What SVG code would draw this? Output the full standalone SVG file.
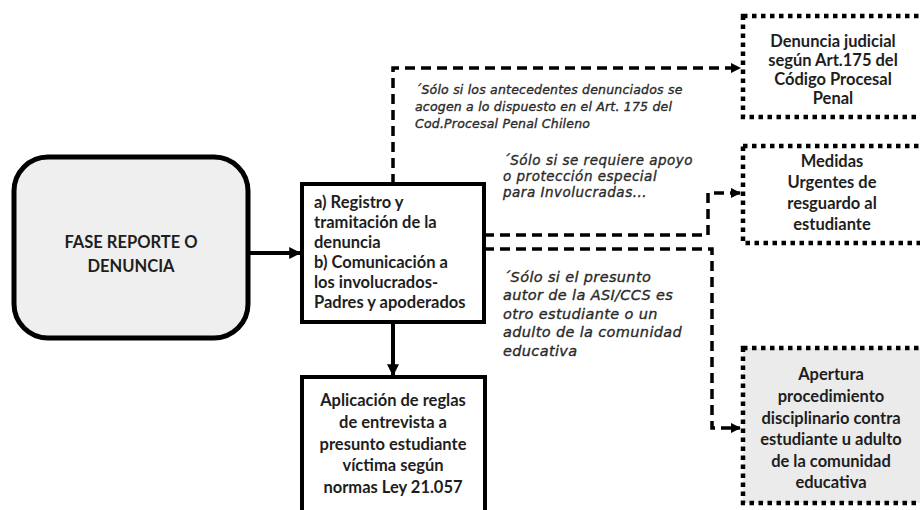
<svg xmlns="http://www.w3.org/2000/svg" width="920" height="510" viewBox="0 0 920 510">
<defs>
<marker id="ah" viewBox="0 0 10 10" refX="9" refY="5" markerWidth="3" markerHeight="3" orient="auto" markerUnits="strokeWidth">
<path d="M0,0 L10,5 L0,10 z" fill="#000"/>
</marker>
<style>
.solid{fill:none;stroke:#000;stroke-width:4}
.dash{fill:none;stroke:#000;stroke-width:3.5;stroke-dasharray:10 6}
.dot{stroke:#000;stroke-width:4.5;stroke-dasharray:4.5 4.5}
.b{font-family:Lato,"Liberation Sans",sans-serif;font-weight:bold;fill:#1e1e1e;font-size:16.5px}
.c{text-anchor:middle}
.n{font-family:"DejaVu Sans",Verdana,sans-serif;font-style:italic;fill:#2a2a2a;stroke:#2a2a2a;stroke-width:0.35}
</style>
</defs>
<rect width="920" height="510" fill="#fff"/>
<g id="connectors">
<path class="solid" d="M248,253 H300" marker-end="url(#ah)"/>
<path class="solid" d="M393,323 V375" marker-end="url(#ah)"/>
<path class="dash" d="M393,184 V68 H740" marker-end="url(#ah)"/>
<path class="dash" d="M484,235 H708 V193 H740" marker-end="url(#ah)"/>
<path class="dash" d="M484,249 H712 V428 H740" marker-end="url(#ah)"/>
</g>
<g id="fase">
<rect x="14" y="157" width="234" height="181" rx="34" fill="#efefef" stroke="#000" stroke-width="5"/>
<text class="b c" x="131" y="248" font-size="21">FASE REPORTE O</text>
<text class="b c" x="131" y="272" font-size="21">DENUNCIA</text>
</g>
<g id="registro">
<rect x="302" y="184" width="182" height="138" fill="#fff" stroke="#000" stroke-width="4"/>
<text class="b" x="314" y="208">a) Registro y</text>
<text class="b" x="314" y="228">tramitación de la</text>
<text class="b" x="314" y="248">denuncia</text>
<text class="b" x="314" y="268">b) Comunicación a</text>
<text class="b" x="314" y="288">los involucrados-</text>
<text class="b" x="314" y="308">Padres y apoderados</text>
</g>
<g id="aplicacion">
<rect x="302" y="377" width="183" height="150" fill="#fff" stroke="#000" stroke-width="4"/>
<text class="b c" x="393" y="406" font-size="17">Aplicación de reglas</text>
<text class="b c" x="393" y="428" font-size="17">de entrevista a</text>
<text class="b c" x="393" y="450" font-size="17">presunto estudiante</text>
<text class="b c" x="393" y="471" font-size="17">víctima según</text>
<text class="b c" x="393" y="493" font-size="17">normas Ley 21.057</text>
</g>
<g id="denuncia-judicial">
<rect x="743" y="16" width="180" height="101" fill="#fff" class="dot"/>
<text class="b c" x="833" y="47" font-size="15.5">Denuncia judicial</text>
<text class="b c" x="833" y="66" font-size="15.5">según Art.175 del</text>
<text class="b c" x="833" y="85" font-size="15.5">Código Procesal</text>
<text class="b c" x="833" y="104" font-size="15.5">Penal</text>
</g>
<g id="medidas">
<rect x="743" y="146" width="180" height="97" fill="#fff" class="dot"/>
<text class="b c" x="832" y="167" font-size="17">Medidas</text>
<text class="b c" x="832" y="188" font-size="17">Urgentes de</text>
<text class="b c" x="832" y="209" font-size="17">resguardo al</text>
<text class="b c" x="832" y="230" font-size="17">estudiante</text>
</g>
<g id="apertura">
<rect x="743" y="348" width="180" height="155" fill="#ebebeb" class="dot"/>
<text class="b c" x="831" y="380">Apertura</text>
<text class="b c" x="831" y="402">procedimiento</text>
<text class="b c" x="831" y="424">disciplinario contra</text>
<text class="b c" x="831" y="445">estudiante u adulto</text>
<text class="b c" x="831" y="467">de la comunidad</text>
<text class="b c" x="831" y="488">educativa</text>
</g>
<g id="nota-175" font-size="12.5" letter-spacing="0.2">
<text class="n" x="415" y="94">´Sólo si los antecedentes  denunciados se</text>
<text class="n" x="415" y="111">acogen a lo dispuesto en el Art. 175 del</text>
<text class="n" x="415" y="128">Cod.Procesal Penal Chileno</text>
</g>
<g id="nota-apoyo" font-size="13.5" letter-spacing="0.5">
<text class="n" x="503" y="165">´Sólo si se requiere apoyo</text>
<text class="n" x="503" y="181">o protección especial</text>
<text class="n" x="503" y="197">para Involucradas...</text>
</g>
<g id="nota-autor" font-size="14.5" letter-spacing="0.35">
<text class="n" x="503" y="282">´Sólo si el presunto</text>
<text class="n" x="503" y="300">autor de la ASI/CCS es</text>
<text class="n" x="503" y="319">otro estudiante o un</text>
<text class="n" x="503" y="337">adulto de la comunidad</text>
<text class="n" x="503" y="356">educativa</text>
</g>
</svg>
